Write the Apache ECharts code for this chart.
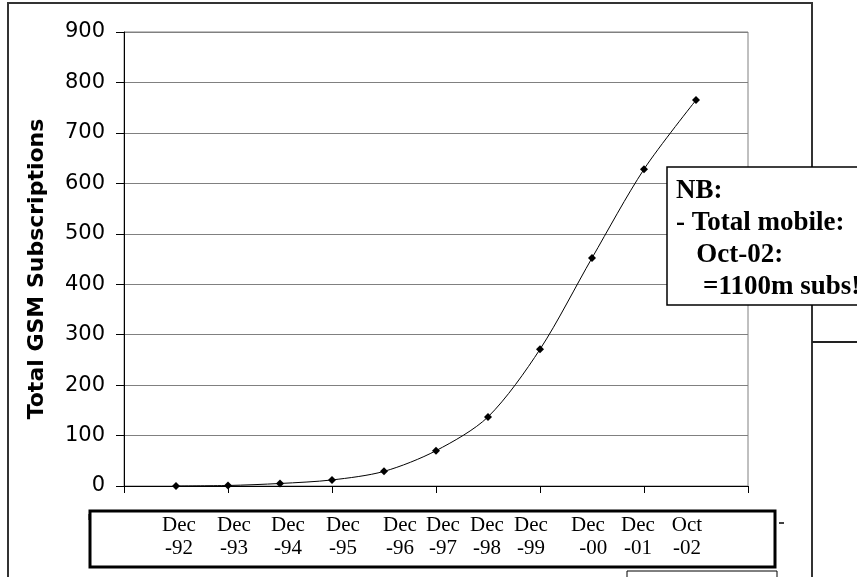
<!DOCTYPE html>
<html>
<head>
<meta charset="utf-8">
<script src="https://cdn.jsdelivr.net/npm/echarts@6/dist/echarts.min.js"></script>
<style>
html,body{margin:0;padding:0;background:#fff;}
#chart{width:857px;height:577px;}
</style>
</head>
<body>
<div id="chart"></div>
<script>
// empty slots at both ends so ticks fall between the points
var categories = ['', 'Dec\n-92', 'Dec\n-93', 'Dec\n-94', 'Dec\n-95', 'Dec\n-96', 'Dec\n-97',
    'Dec\n-98', 'Dec\n-99', 'Dec\n  -00', 'Dec\n-01', 'Oct\n-02', ''];
var subs = [null, 0, 1, 5, 12, 29, 70, 137, 271, 452, 628, 765, null];
var yTicks = { min: 0, max: 900, step: 100 };
var note = ['NB:', '- Total mobile:', '   Oct-02:', '    =1100m subs!'];
// the labels sit in a pasted text box, a little off the points
var labelShift = [0, 3, 6, 8, 11, 16, 7, -1, -9, -4, -6, -9, 0];

var chart = echarts.init(document.getElementById('chart'));
var serif = '"Liberation Serif", "Times New Roman", serif';
var sans = '"DejaVu Sans", Arial, sans-serif';

var xData = categories.map(function (c, i) {
    var s = labelShift[i];
    return {
        value: c,
        textStyle: { padding: s >= 0 ? [0, 0, 0, 2 * s] : [0, -2 * s, 0, 0] }
    };
});

var option = {
    animation: false,
    grid: {
        left: 124, right: 109, top: 32, bottom: 91,
        show: true, borderColor: '#808080', borderWidth: 1
    },
    xAxis: {
        type: 'category',
        data: xData,
        boundaryGap: false,
        axisLine: { lineStyle: { color: '#000', width: 1 } },
        axisTick: { interval: 1, length: 7, lineStyle: { color: '#000' } },
        axisLabel: {
            interval: 0, margin: 28, color: '#000',
            fontFamily: serif, fontSize: 21, lineHeight: 23
        },
        splitLine: { show: false }
    },
    yAxis: {
        type: 'value',
        min: yTicks.min, max: yTicks.max, interval: yTicks.step,
        name: 'Total GSM Subscriptions',
        nameLocation: 'middle',
        nameGap: 76,
        nameTextStyle: {
            fontFamily: sans, fontWeight: 'bold', fontSize: 22, color: '#000',
            padding: [0, 20, 0, 0]
        },
        axisLine: { show: true, lineStyle: { color: '#000' } },
        axisTick: { show: true, length: 8, lineStyle: { color: '#000' } },
        axisLabel: { color: '#000', fontFamily: sans, fontSize: 21, margin: 19 },
        splitLine: { lineStyle: { color: '#808080', width: 1 } }
    },
    series: [{
        type: 'line',
        data: subs,
        smooth: 0.3,
        symbol: 'diamond',
        symbolSize: 8,
        showSymbol: true,
        lineStyle: { color: '#000', width: 1 },
        itemStyle: { color: '#000' }
    }],
    graphic: [
        // outer frame
        { type: 'polyline', z: 10, shape: { points: [[8, 577], [8, 3], [812, 3], [812, 577]] },
          style: { stroke: '#333', lineWidth: 2, fill: null } },
        { type: 'line', z: 10, shape: { x1: 812, y1: 342, x2: 857, y2: 342 },
          style: { stroke: '#222', lineWidth: 2 } },
        // box around the category labels
        { type: 'rect', z: 10, shape: { x: 90, y: 511, width: 685, height: 56 },
          style: { stroke: '#000', lineWidth: 3, fill: null } },
        { type: 'line', z: 10, shape: { x1: 779, y1: 523, x2: 784, y2: 523 },
          style: { stroke: '#000', lineWidth: 1.5 } },
        { type: 'line', z: 10, shape: { x1: 89, y1: 514, x2: 89, y2: 520 },
          style: { stroke: '#000', lineWidth: 1 } },
        // small box at the bottom
        { type: 'polyline', z: 10, shape: { points: [[627, 577], [627, 571], [777, 571], [777, 577]] },
          style: { stroke: '#000', lineWidth: 1, fill: null } },
        // note box
        { type: 'rect', z: 20, shape: { x: 667, y: 167, width: 200, height: 138 },
          style: { stroke: '#000', lineWidth: 1.5, fill: '#fff' } },
        { type: 'text', z: 21, left: 676, top: 175,
          style: { text: note.join('\n'), font: 'bold 27px ' + serif, lineHeight: 32, fill: '#000' } }
    ]
};
chart.setOption(option);
</script>
</body>
</html>
